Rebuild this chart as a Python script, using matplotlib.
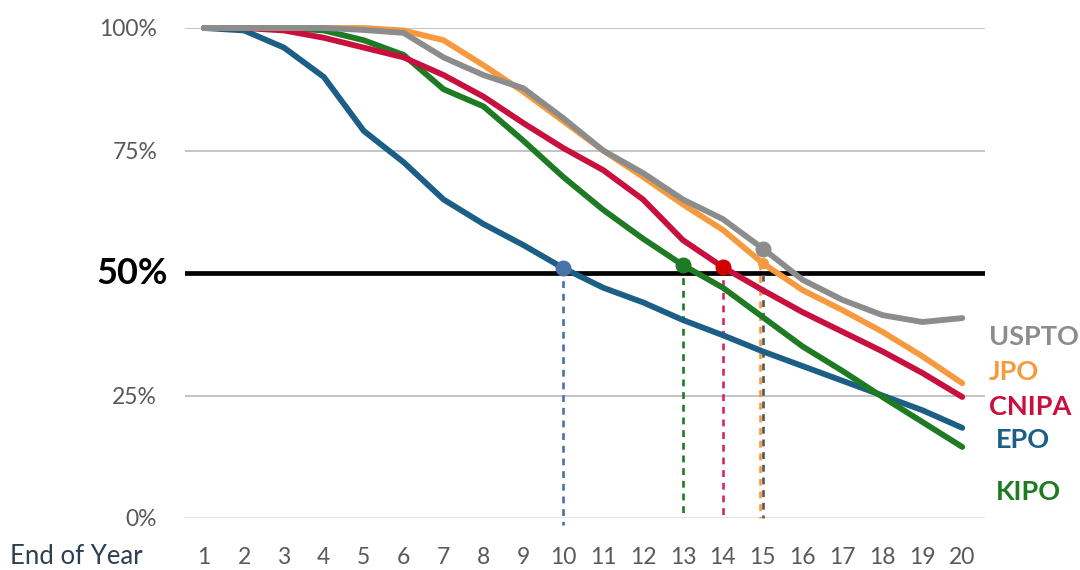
import matplotlib
matplotlib.use('Agg')
import matplotlib.pyplot as plt

plt.rcParams['font.family'] = ['Lato', 'DejaVu Sans']

years = list(range(1, 21))
offices = ['USPTO', 'JPO', 'CNIPA', 'EPO', 'KIPO']
uspto = [100, 100, 100, 100, 99.6, 99, 94, 90.4, 87.7, 81.6, 75, 70.4, 65, 61, 55, 48.6, 44.5, 41.4, 40, 40.8]
jpo = [100, 100, 100, 100, 100, 99.5, 97.5, 92.4, 87, 81, 75, 69.6, 64, 58.8, 52, 46.5, 42.4, 38, 33, 27.5]
cnipa = [100, 100, 99.5, 98, 96, 94, 90.4, 86, 80.6, 75.5, 71, 65, 56.7, 51.2, 46.5, 42, 38, 34, 29.6, 24.7]
epo = [100, 99.5, 96, 90, 79, 72.6, 65, 60, 55.7, 51, 47, 44, 40.4, 37.3, 34, 31, 28, 25, 22, 18.4]
kipo = [100, 100, 100, 99.5, 97.5, 94.5, 87.5, 84, 77, 69.6, 62.9, 57, 51.6, 47, 41, 35, 30, 24.7, 19.6, 14.5]
# year where each office crosses ~50%
half_year = {'USPTO': 15, 'JPO': 15, 'CNIPA': 14, 'EPO': 10, 'KIPO': 13}
yticks = [0, 25, 75, 100]

colors = {'USPTO': '#8C8C8C', 'JPO': '#F79A3E', 'CNIPA': '#C8103F',
          'EPO': '#1B5E86', 'KIPO': '#1F7A24'}
marker_colors = {'USPTO': '#8C8C8C', 'JPO': '#F79A3E', 'CNIPA': '#D00000',
                 'EPO': '#4A72A8', 'KIPO': '#1F7A24'}
series = {'USPTO': uspto, 'JPO': jpo, 'CNIPA': cnipa, 'EPO': epo, 'KIPO': kipo}

fig = plt.figure(figsize=(10.8, 5.7), dpi=100, facecolor='white')
ax = fig.add_axes([185/1080, 1-518/570, 800/1080, 490/570])
ax.set_xlim(0.52, 20.57)
ax.set_ylim(0, 100)

for v in yticks:
    ax.axhline(v, color='#BFBFBF' if v else '#E3E3E3', lw=1.3, zorder=1)
ax.axhline(50, color='black', lw=3.4, zorder=2)

# drop lines
for name in ['EPO', 'KIPO', 'CNIPA', 'JPO', 'USPTO']:
    yr = half_year[name]
    val = series[name][yr - 1]
    xx = yr - 0.08 if name == 'JPO' else yr
    c = '#555555' if name == 'USPTO' else marker_colors[name]
    if name == 'CNIPA':
        c = '#D5285A'
    ax.plot([xx, xx], [val, -1.5 if name == 'EPO' else 0], color=c,
            lw=1.9, ls=(0, (2.6, 2.2)), zorder=2.5, clip_on=False)

for name in ['EPO', 'KIPO', 'CNIPA', 'JPO', 'USPTO']:
    ax.plot(years, series[name], color=colors[name], lw=4.2, zorder=3,
            solid_capstyle='round', solid_joinstyle='round', clip_on=False)

for name in ['EPO', 'KIPO', 'CNIPA', 'JPO', 'USPTO']:
    yr = half_year[name]
    ax.plot(yr, series[name][yr - 1], 'o', color=marker_colors[name],
            ms=10.5 if name != 'JPO' else 7, zorder=4, clip_on=False)

for s in ax.spines.values():
    s.set_visible(False)
ax.tick_params(length=0)
ax.set_yticks(yticks)
ax.set_yticklabels(['%d%%' % v for v in yticks], fontsize=16.5, color='#595959')
ax.tick_params(axis='y', pad=20)
ax.set_xticks(years)
ax.set_xticklabels([str(y) for y in years], fontsize=16.5, color='#595959')
ax.tick_params(axis='x', pad=21)

ax.text(-0.021, 50, '50%', transform=ax.get_yaxis_transform(), ha='right', va='center',
        fontsize=26, fontweight='bold', color='black')

fig.text(10/1080, 1-557/570, 'End of Year', fontsize=18.5, color='#2E3F52', va='center', ha='left')

label_pos = {'USPTO': (989, 337), 'JPO': (989, 372), 'CNIPA': (989, 407),
             'EPO': (996, 440), 'KIPO': (996, 492)}
for name in offices:
    px, py = label_pos[name]
    fig.text(px/1080, 1-py/570, name, fontsize=19.5, fontweight='bold',
             color=colors[name], va='center', ha='left')

fig.savefig('out.png', dpi=100, facecolor='white')
